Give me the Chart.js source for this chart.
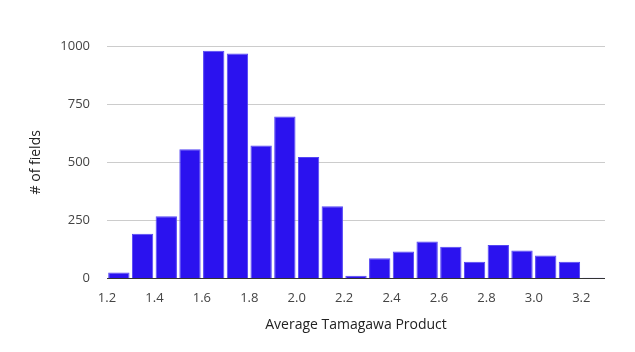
<!DOCTYPE html>
<html lang="en">
<head>
  <meta charset="UTF-8">
  <title>Average Tamagawa Product</title>
  <script src="https://cdn.jsdelivr.net/npm/chart.js"></script>
  <style>
    body { margin: 0; background: #ffffff; }
    .box { width: 635px; height: 352px; }
  </style>
</head>
<body>
  <div class="box">
    <canvas id="hist"></canvas>
  </div>
<script>
// bin start of each bar (width 0.1)
var binStart = [1.2, 1.3, 1.4, 1.5, 1.6, 1.7, 1.8, 1.9, 2.0, 2.1, 2.2,
                2.3, 2.4, 2.5, 2.6, 2.7, 2.8, 2.9, 3.0, 3.1, 3.2];
// number of fields in each bin
var counts = [26, 193, 268, 556, 980, 968, 572, 697, 523, 311, 12,
              88, 116, 159, 137, 72, 144, 121, 99, 72, 4];
var binWidth = 0.1;
var yTicks = [0, 250, 500, 750, 1000];

var pontos = [];
for (var i = 0; i < binStart.length; i++) {
  pontos.push({ x: binStart[i] + binWidth / 2, y: counts[i] });
}

var fonte = "'Open Sans', 'Noto Sans', sans-serif";

var ctx = document.getElementById('hist').getContext('2d');
var myChart = new Chart(ctx, {
  type: 'bar',
  data: {
    datasets: [{
      label: '# of fields',
      data: pontos,
      backgroundColor: '#2b12ef',
      borderColor: '#5446f4',
      borderWidth: 1,
      barPercentage: 0.9,
      categoryPercentage: 1.0
    }]
  },
  options: {
    responsive: true,
    maintainAspectRatio: false,
    animation: false,
    layout: { padding: { top: 46, right: 30, left: 28, bottom: 19 } },
    plugins: {
      legend: { display: false },
      tooltip: { enabled: false }
    },
    scales: {
      x: {
        type: 'linear',
        min: binStart[0],
        max: binStart[binStart.length - 1] + binWidth,
        offset: false,
        grid: { display: false, offset: false },
        border: { display: false },
        ticks: {
          stepSize: 0.2,
          includeBounds: false,
          padding: 4,
          color: '#444',
          font: { family: fonte, size: 13 },
          callback: function (v) { return Number(v).toFixed(1); }
        },
        title: {
          display: true,
          text: 'Average Tamagawa Product',
          color: '#222',
          font: { family: fonte, size: 14 },
          padding: { top: 6, bottom: 0 }
        }
      },
      y: {
        min: 0,
        max: 1000,
        afterBuildTicks: function (scale) {
          scale.ticks = yTicks.map(function (v) { return { value: v }; });
        },
        afterFit: function (scale) { scale.width = 107 - 28; },
        grid: {
          drawTicks: false,
          color: function (c) { return c.tick && c.tick.value === 0 ? '#333' : '#cccccc'; }
        },
        border: { display: false },
        ticks: {
          padding: 17,
          color: '#444',
          font: { family: fonte, size: 13 },
          callback: function (v) { return String(v); }
        },
        title: {
          display: true,
          text: '# of fields',
          color: '#222',
          font: { family: fonte, size: 14 },
          padding: { top: 0, bottom: 0 }
        }
      }
    }
  }
});
</script>
</body>
</html>
